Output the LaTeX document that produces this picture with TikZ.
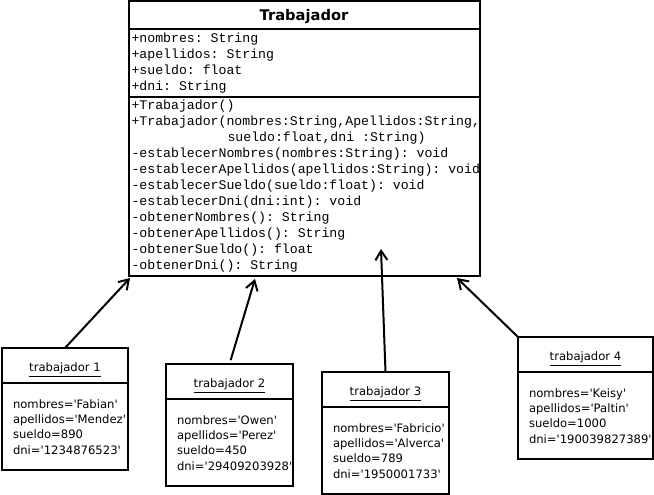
\documentclass[tikz,border=0pt]{standalone}
\usepackage{fontspec}
\setmainfont{DejaVu Sans}
\setmonofont{Liberation Mono}
\usetikzlibrary{arrows.meta}
\usetikzlibrary{positioning}

\newcommand{\q}{\textquotesingle}

\begin{document}
\begin{tikzpicture}[x=0.75pt, y=-0.75pt, line width=1.5pt,
  >={Straight Barb[length=7pt,width=9pt]},
  box/.style={draw, inner sep=0pt, outer sep=0pt, anchor=north west},
  mono/.style={anchor=base west, inner sep=0pt, font=\ttfamily\fontsize{9.9}{12}\selectfont},
  obj/.style={anchor=base west, inner sep=0pt, font=\fontsize{8.7}{10}\selectfont}]
\useasboundingbox (0,0) rectangle (654,495);

\node[box, minimum width=263.25pt, minimum height=206.25pt] (cls) at (129,1) {};
\draw (129,29) -- (480,29);
\draw (129,97) -- (480,97);
\node[anchor=base, font=\bfseries\fontsize{11}{13}\selectfont] (name) at (304,21) {Trabajador};

\foreach \y/\t [count=\i] in {43/{+nombres: String}, 59/{+apellidos: String},
    75/{+sueldo: float}, 91/{+dni: String}}
  \node[mono] (at\i) at (130.5,\y) {\t};

\foreach \x/\y/\t [count=\i] in {130.5/110/{+Trabajador()},
    130.5/126/{+Trabajador(nombres:String,Apellidos:String,},
    226.5/142/{sueldo:float,dni :String)},
    130.5/158/{-establecerNombres(nombres:String): void},
    130.5/174/{-establecerApellidos(apellidos:String): void},
    130.5/190/{-establecerSueldo(sueldo:float): void},
    130.5/206/{-establecerDni(dni:int): void},
    130.5/222/{-obtenerNombres(): String},
    130.5/238/{-obtenerApellidos(): String},
    130.5/254/{-obtenerSueldo(): float},
    130.5/270/{-obtenerDni(): String}}
  \node[mono] (op\i) at (\x,\y) {\t};

\foreach \i/\x/\y/\w/\nm/\ap/\su/\dn in {1/2/348/126/Fabian/Mendez/890/1234876523,
    2/166/364/127/Owen/Perez/450/29409203928,
    3/322/372/127/Fabricio/Alverca/789/1950001733,
    4/518/337/135/Keisy/Paltin/1000/190039827389}
{
  \pgfmathsetmacro{\ww}{\w*0.75}
  \node[box, minimum width=\ww pt, minimum height=91.5pt] (t\i) at (\x,\y) {};
  \draw (\x,\y+35.5) -- ++(\w,0);
  \node[anchor=base, inner sep=0pt, font=\fontsize{8.7}{10}\selectfont] (n\i) at (\x+\w/2,\y+24) {\underline{trabajador \i}};
  \foreach \k/\v [count=\j] in {nombres/\q\nm\q, apellidos/\q\ap\q, sueldo/\su, dni/\q\dn\q}
    \node[obj] (t\i-\j) at (\x+10,\y+45+15.3*\j) {\k=\v};
}

\coordinate (h1) at (130,278);
\coordinate (h2) at (255,279);
\coordinate (h3) at (381,249);
\coordinate (h4) at (457,278);

\draw[->] (t1.north) -- (h1);
\draw[->, shorten <=3pt] (t2.north) -- (h2);
\draw[->] (t3.north) -- (h3);
\draw[->] (t4.north west) -- (h4);

\end{tikzpicture}
\end{document}
